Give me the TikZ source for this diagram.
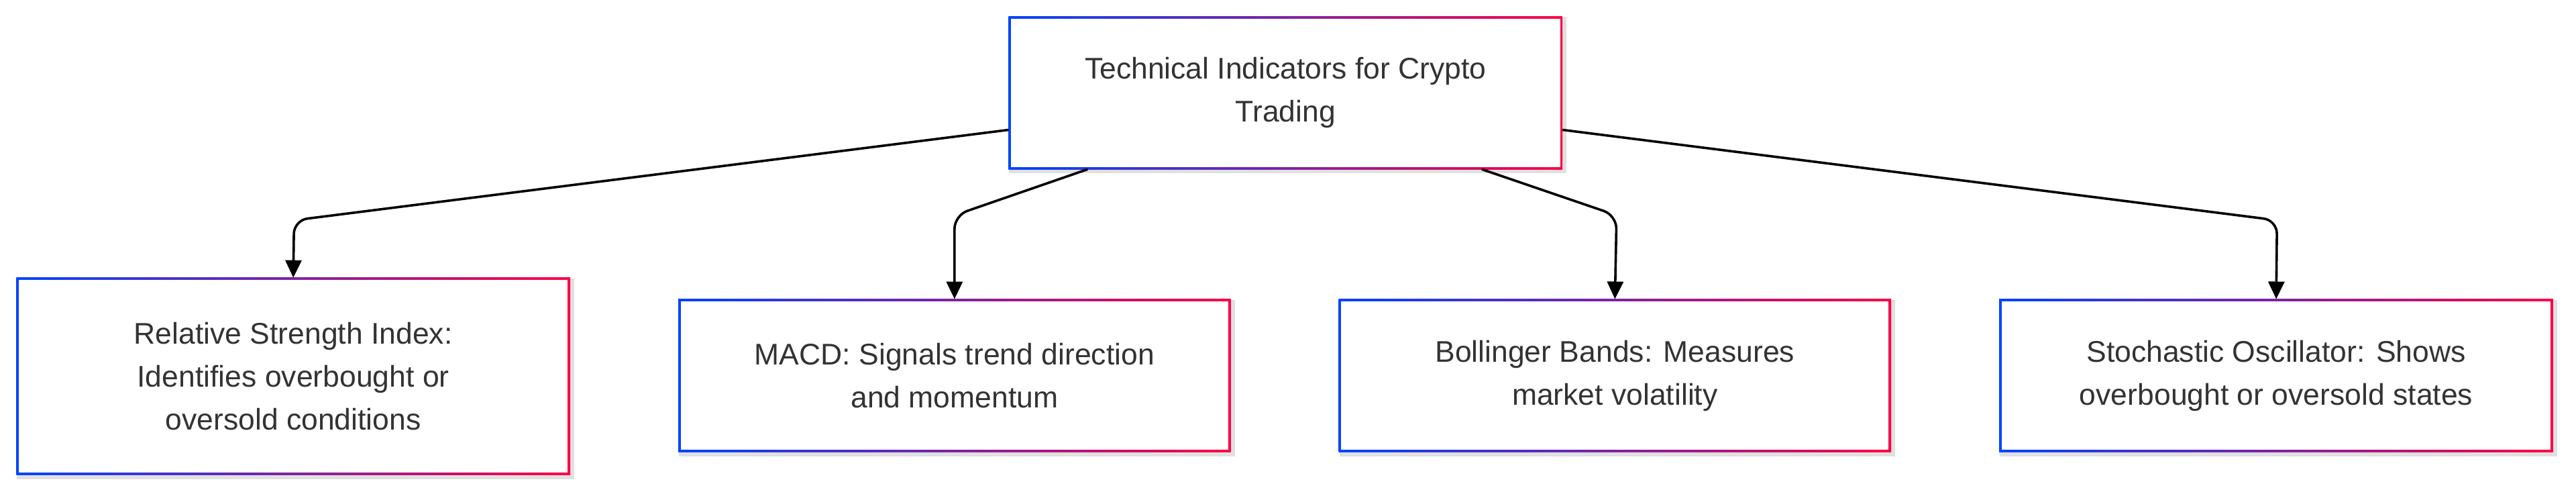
\documentclass[tikz,border=0pt]{standalone}
\usepackage{fontspec}
\setmainfont{Liberation Sans}
\usetikzlibrary{arrows.meta,backgrounds}
\definecolor{gb}{HTML}{0044FF}
\definecolor{gr}{HTML}{FF0044}
\definecolor{tx}{HTML}{333333}
\begin{document}
\begin{tikzpicture}[x=2.449pt,y=-2.449pt,
  box/.style={draw=none,inner sep=0pt,align=center,text=tx,font=\fontsize{44.5}{64}\selectfont},
  conn/.style={line width=3.6pt,black,rounded corners=20pt,-{Triangle[length=26pt,width=24pt]}}]
\useasboundingbox (0,0) rectangle (1568,300.5);
\node[box,minimum width=337*2.449pt,minimum height=93*2.449pt] (t) at (782.5,56.5) {Technical Indicators for Crypto\\Trading};
\node[box,minimum width=337*2.449pt,minimum height=120*2.449pt] (b1) at (178.5,229) {Relative Strength Index:\\Identifies overbought or\\oversold conditions};
\node[box,minimum width=336*2.449pt,minimum height=93*2.449pt] (b2) at (581,228.5) {MACD: Signals trend direction\\and momentum};
\node[box,minimum width=336*2.449pt,minimum height=93*2.449pt] (b3) at (983,228.5) {Bollinger Bands: Measures\\market volatility};
\node[box,minimum width=337*2.449pt,minimum height=93*2.449pt] (b4) at (1385.5,228.5) {Stochastic Oscillator: Shows\\overbought or oversold states};
\begin{scope}[on background layer]
\foreach \n in {t,b1,b2,b3,b4}{
  \fill[black!12] ([shift={(1pt,-6pt)}]\n.south west) rectangle ([shift={(6pt,-1pt)}]\n.north east);
  \shade[left color=gb,right color=gr] (\n.south west) rectangle (\n.north east);
  \fill[white] ([shift={(3.6pt,3.6pt)}]\n.south west) rectangle ([shift={(-3.6pt,-3.6pt)}]\n.north east);
}
\end{scope}
\coordinate (c1) at (179,134);
\coordinate (c2) at (581,131);
\coordinate (c3) at (984,131);
\coordinate (c4) at (1386,134);
\draw[conn] (t.west |- 0,79) -- (c1) -- (b1.north);
\draw[conn] (662,103) -- (c2) -- (b2.north);
\draw[conn] (902,103) -- (c3) -- (b3.north);
\draw[conn] (t.east |- 0,79) -- (c4) -- (b4.north);
\end{tikzpicture}
\end{document}
